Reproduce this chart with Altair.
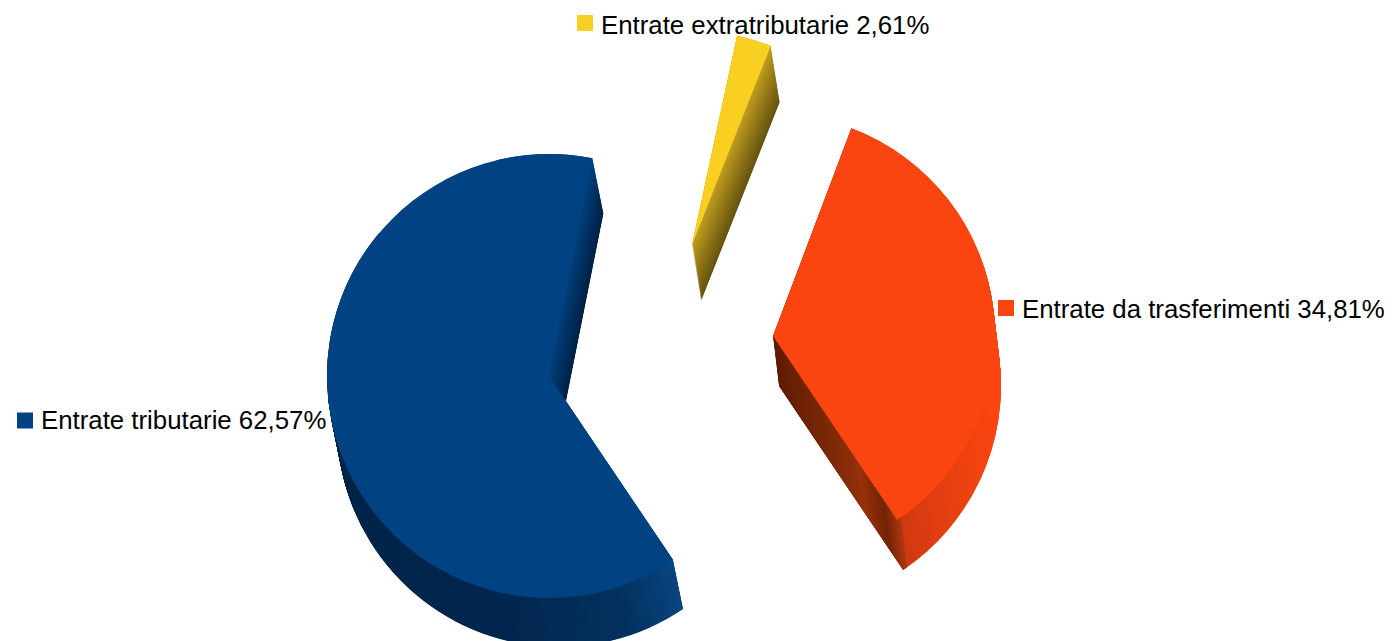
import math
import altair as alt
import pandas as pd

labels = ["Entrate tributarie 62,57%", "Entrate extratributarie 2,61%", "Entrate da trasferimenti 34,81%"]
shares = [62.57, 2.61, 34.81]
colors = ["#014382", "#f9cf21", "#fb4510"]
centers_x = [549, 692, 773]
centers_y = [376, 245, 336]
radii = [222, 214, 222]
depth_x = [10, 9, 6]
depth_y = [49, 56, 50]
rotation = [0, 0.9, 0]
start_deg = 146.0
legend_x = [25, 585, 1006]
legend_y = [420.5, 23, 308]
text_x = [41, 601, 1022]
text_y = [428.5, 33.5, 318]

STEPS = 100
xs = alt.Scale(domain=[8, 1384], range=[0, 1376])
ys = alt.Scale(domain=[8, 641], range=[0, 633])

# slice angles from the shares
total = sum(shares)
t0 = []
t1 = []
a = start_deg
for s, rot in zip(shares, rotation):
    t0.append(a + rot)
    a += s / total * 360
    t1.append(a + rot)


def grad(stops):
    return alt.Gradient(
        gradient="linear", x1=0, x2=1, y1=0, y2=0,
        stops=[alt.GradientStop(offset=o, color=c) for o, c in stops],
    )


def mix(c1, c2, f):
    p = [int(c1[i:i + 2], 16) for i in (1, 3, 5)]
    q = [int(c2[i:i + 2], 16) for i in (1, 3, 5)]
    return "#%02x%02x%02x" % tuple(round(u + (v - u) * f) for u, v in zip(p, q))


def stack(i, d0, d1, colour=None, dx=None, dy=None):
    dx = depth_x[i] if dx is None else dx
    dy = depth_y[i] if dy is None else dy
    rows = []
    for k in range(STEPS, -1, -1):
        f = k / STEPS
        row = dict(
            x=centers_x[i] + dx * f,
            y=centers_y[i] + dy * f,
            t=math.radians(d0),
            t2=math.radians(d1),
            r=radii[i],
        )
        if colour:
            row["c"] = mix(colour[0], colour[1], f)
        rows.append(row)
    return pd.DataFrame(rows)


def arc_layer(df, fill=None):
    enc = dict(
        x=alt.X("x:Q", scale=xs, axis=None),
        y=alt.Y("y:Q", scale=ys, axis=None),
        theta=alt.Theta("t:Q", scale=None, stack=None),
        theta2=alt.Theta2("t2:Q"),
        radius=alt.Radius("r:Q", scale=None),
    )
    if fill is None:
        enc["fill"] = alt.Fill("c:N", scale=None, legend=None)
        return alt.Chart(df).mark_arc(strokeWidth=0).encode(**enc)
    return alt.Chart(df).mark_arc(strokeWidth=0, fill=fill).encode(**enc)


layers = []

# blue: rim, then upper cut face
layers.append(arc_layer(stack(0, t0[0], 310), grad([
    (0, "#012347"), (0.5, "#02264e"), (0.85, "#03325f"), (1, "#08457f")])))
layers.append(arc_layer(stack(0, t1[0] - 25, t1[0], ("#03417c", "#012345"), dx=11, dy=55)))

# yellow: cut face
layers.append(arc_layer(stack(1, t0[1], t1[1], ("#c09c22", "#655410"))))

# orange: rim, then lower cut face
o0 = t0[2] - 360
o1 = t1[2] - 360
layers.append(arc_layer(stack(2, o0, o1), grad([
    (0, "#5a1c04"), (0.35, "#7a2606"), (0.40, "#a83008"), (0.46, "#c4340f"),
    (0.72, "#e03e10"), (1, "#fb4510")])))
layers.append(arc_layer(stack(2, o1 - 1.2, o1), grad([
    (0, "#611c03"), (0.4, "#7a2806"), (0.68, "#96300a"), (0.86, "#702405"), (1, "#b03610")])))

# top faces
top = pd.DataFrame(dict(
    x=centers_x, y=centers_y,
    t=[math.radians(v) for v in t0],
    t2=[math.radians(v) for v in t1],
    r=radii, c=colors,
))
layers.append(arc_layer(top))

legend = pd.DataFrame(dict(x=legend_x, y=legend_y, c=colors))
layers.append(
    alt.Chart(legend).mark_square(size=256, opacity=1, strokeWidth=0).encode(
        x=alt.X("x:Q", scale=xs, axis=None),
        y=alt.Y("y:Q", scale=ys, axis=None),
        fill=alt.Fill("c:N", scale=None, legend=None),
    )
)
txt = pd.DataFrame(dict(x=text_x, y=text_y, label=labels))
layers.append(
    alt.Chart(txt).mark_text(
        font="Liberation Sans", fontSize=25.8, align="left", baseline="alphabetic", color="#000000"
    ).encode(
        x=alt.X("x:Q", scale=xs, axis=None),
        y=alt.Y("y:Q", scale=ys, axis=None),
        text="label:N",
    )
)

chart = (
    alt.layer(*layers)
    .properties(width=1376, height=633, padding=0, background="#ffffff",
                autosize=alt.AutoSizeParams(type="none"))
    .configure_view(strokeWidth=0)
)
chart.save("out.html", embed_options={"renderer": "svg", "actions": False})
